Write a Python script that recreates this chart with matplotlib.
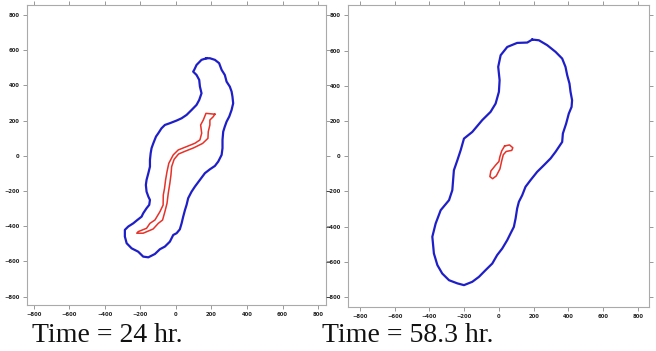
import numpy as np
import matplotlib
matplotlib.use('Agg')
import matplotlib.pyplot as plt

# Outer (blue) and inner (red) contours, in data units
blue_24_x = [172, 144, 116, 103, 97, 116, 131, 135, 144, 131, 116, 88, 60, 32, 4, -34, -62,
             -81, -99, -112, -127, -137, -142, -146, -146, -155, -165, -169, -165, -155, -146,
             -150, -165, -184, -193, -217, -240, -268, -287, -287, -277, -249, -212, -184, -155,
             -118, -90, -62, -34, -15, 4, 22, 32, 41, 51, 60, 69, 88, 107, 135, 163, 191, 219,
             238, 257, 262, 262, 266, 275, 285, 300, 313, 322, 318, 313, 303, 285, 275, 257,
             243, 219, 191, 172]
blue_24_y = [554, 545, 516, 488, 478, 459, 431, 393, 355, 317, 289, 260, 232, 213, 200, 185, 175,
             156, 128, 109, 71, 43, 14, -24, -62, -99, -137, -166, -204, -232, -251,
             -279, -298, -327, -346, -365, -384, -402, -421, -459, -497, -526, -545, -573, -577,
             -558, -531, -516, -488, -450, -440, -418, -384, -346, -308, -279, -241, -204, -175,
             -137, -99, -77, -58, -33, 5, 43, 90, 137, 166, 194, 223, 260, 298, 336, 365, 393,
             421, 459, 488, 526, 545, 554, 554]

# thin closed loop: left edge going down, then right edge coming back up
red_24_x = [219, 169, 154, 139, 145, 135, 107, 60, 13, -15, -40, -50, -58, -64, -71, -72, -90,
            -118, -146, -165, -212, -220, -184, -128, -99, -75, -62, -50, -43, -34, -28, -24,
            -10, 15, 50, 100, 150, 180, 182, 191, 191, 210, 219]
red_24_y = [236, 241, 203, 175, 128, 90, 71, 52, 33, 5, -43, -90, -137, -185, -223, -280, -318,
            -365, -384, -412, -431, -440, -440, -416, -384, -365, -318, -270, -213, -156, -110,
            -62, -20, 10, 25, 45, 70, 99, 137, 175, 203, 222, 236]

blue_58_x = [192, 230, 278, 326, 364, 383, 393, 406, 412, 421, 418, 402, 387, 368, 364, 345, 326,
             297, 259, 220, 182, 153, 134, 115, 105, 96, 86, 67, 48, 19, -10, -38, -77, -115,
             -153, -201, -239, -287, -326, -354, -374, -383, -364, -335, -287, -268, -259, -239,
             -220, -201, -153, -96, -48, -19, 0, 4, -4, 10, 48, 105, 163, 192]
blue_58_y = [663, 659, 631, 593, 555, 508, 460, 413, 366, 318, 280, 242, 186, 129, 81, 53, 25,
             -13, -51, -89, -136, -174, -222, -259, -297, -354, -402, -439, -477, -525, -562,
             -610, -648, -686, -714, -733, -723, -705, -667, -619, -553, -458, -383, -307, -250,
             -193, -80, -23, 34, 100, 138, 205, 252, 299, 366, 432, 508, 574, 621, 644, 646, 663]

red_58_x = [33, 61, 80, 74, 42, 25, 16, 6, -15, -36, -52, -46, -20, 0, 5, 16, 33]
red_58_y = [58, 64, 48, 33, 27, 8, -27, -72, -112, -128, -116, -84, -52, -30, -5, 30, 58]

labels = ['Time = 24 hr.', 'Time = 58.3 hr.']

fig = plt.figure(figsize=(6.56, 3.51), dpi=100)
ax1 = fig.add_axes([0.0407, 0.131, 0.456, 0.855])
ax2 = fig.add_axes([0.530, 0.125, 0.460, 0.860])

panels = [
    (ax1, blue_24_x, blue_24_y, red_24_x, red_24_y, (-839, 843), (-848, 857)),
    (ax2, blue_58_x, blue_58_y, red_58_x, red_58_y, (-870, 866), (-858, 858)),
]

for ax, bx, by, rx, ry, xl, yl in panels:
    ax.plot(bx, by, color='#1f1fc8', lw=1.6, solid_joinstyle='round')
    ax.plot(rx, ry, color='#e63228', lw=1.1, solid_joinstyle='round')
    ax.set_xlim(*xl)
    ax.set_ylim(*yl)
    ticks = np.arange(-800, 801, 200)
    ax.set_xticks(ticks)
    ax.set_yticks(ticks)
    ax.tick_params(direction='out', length=3, width=0.6, color='#888888',
                   labelsize=3.8, pad=2, top=True, right=True,
                   labelcolor='#222222')
    for lab in ax.get_xticklabels() + ax.get_yticklabels():
        lab.set_fontweight('bold')
    for sp in ax.spines.values():
        sp.set_color('#aaaaaa')
        sp.set_linewidth(0.8)

fig.text(32 / 656, 1 - 342 / 351, labels[0], family='Liberation Serif',
         fontsize=20, color='#111111', va='baseline', ha='left')
fig.text(322 / 656, 1 - 342 / 351, labels[1], family='Liberation Serif',
         fontsize=20, color='#111111', va='baseline', ha='left')

fig.savefig('out.png', dpi=100)
